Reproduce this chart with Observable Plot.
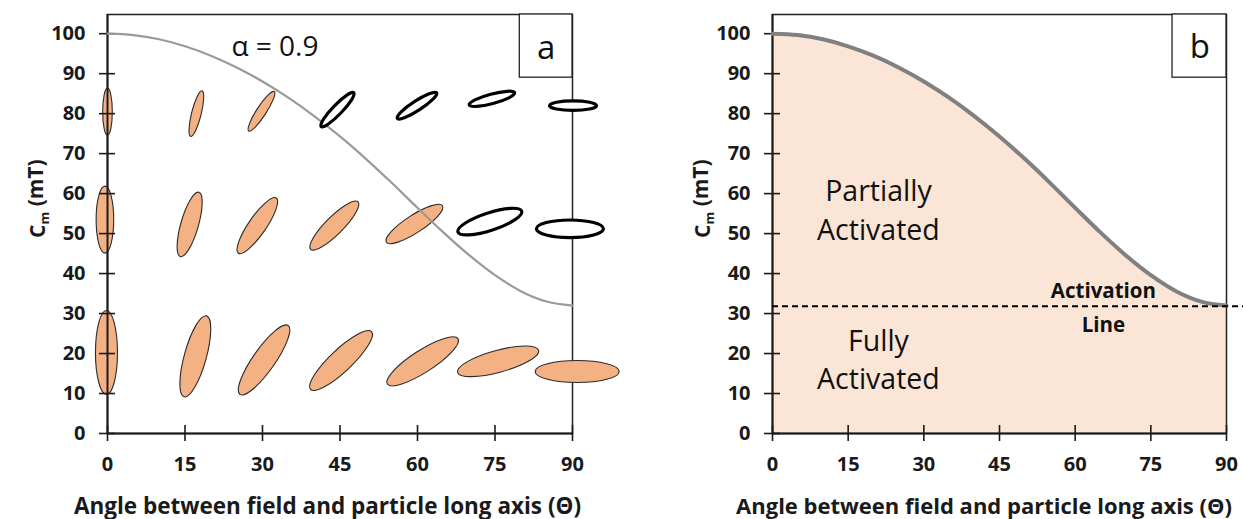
<!DOCTYPE html>
<html><head><meta charset="utf-8">
<script src="https://cdn.jsdelivr.net/npm/d3@7"></script>
<script src="https://cdn.jsdelivr.net/npm/@observablehq/plot@0.6"></script>
<style>
body{margin:0;background:#fff;}
#wrap{display:flex;width:1243px;height:519px;overflow:hidden;}
#wrap svg{display:block;flex:none;}
</style></head><body><div id="wrap"></div>
<script>
// ---- data ----
const angleTicks = [0, 15, 30, 45, 60, 75, 90];
const cmTicks = [0, 10, 20, 30, 40, 50, 60, 70, 80, 90, 100];
const curveAngle = [0, 5, 10, 15, 20, 25, 30, 35, 40, 45, 50, 55, 60, 65, 70, 75, 80, 85, 90];
const curveCm = [100, 99.65, 98.6, 96.85, 94.5, 91.55, 88.05, 84.0, 79.4, 74.3, 68.7, 62.7, 56.45, 50.3, 44.6, 39.6, 35.6, 33.0, 32.0];
const activationCm = 31.8;

// particles (ellipses) in panel a: position, tilt from field direction, activated?
const row1Angle = [0, 17.2, 29.8, 44.5, 59.9, 74.4, 90.1];
const row1Cm = [80.5, 80, 80.6, 81, 82, 83.7, 82];
const row1Tilt = [0, 14, 33, 44, 57, 75, 90];
const row1Active = [true, true, true, false, false, false, false];

const row2Angle = [-0.5, 15.9, 29.0, 43.9, 59.4, 74, 89.5];
const row2Cm = [53.5, 52.3, 52, 52, 52.4, 53, 51.2];
const row2Tilt = [0, 16, 34.5, 45, 57, 72, 90];
const row2Active = [true, true, true, true, true, false, false];

const row3Angle = [-0.2, 17, 30.3, 45.2, 61, 75.6, 90.9];
const row3Cm = [20.25, 19.3, 18.4, 18.25, 18.05, 18.05, 15.5];
const row3Tilt = [0, 15.5, 35, 46.6, 57.3, 74.8, 90];
const row3Active = [true, true, true, true, true, true, true];

const xTitle = "Angle between field and particle long axis (\u0398)";
const yTitle = "Cm (mT)";

// ---- build tables ----
const curve = curveAngle.map((a, i) => ({angle: a, cm: curveCm[i]}));
function rowTable(ang, cm, tilt, act) {
  return ang.map((a, i) => ({angle: a, cm: cm[i], tilt: tilt[i], active: act[i]}));
}
const rows = [
  rowTable(row1Angle, row1Cm, row1Tilt, row1Active),
  rowTable(row2Angle, row2Cm, row2Tilt, row2Active),
  rowTable(row3Angle, row3Cm, row3Tilt, row3Active)
];

// ellipse shapes (pixel half-axes per row)
function ellipseSymbol(a, b) {
  const k = 0.5522847498;
  return {draw(ctx) {
    ctx.moveTo(0, -a);
    ctx.bezierCurveTo(k * b, -a, b, -k * a, b, 0);
    ctx.bezierCurveTo(b, k * a, k * b, a, 0, a);
    ctx.bezierCurveTo(-k * b, a, -b, k * a, -b, 0);
    ctx.bezierCurveTo(-b, -k * a, -k * b, -a, 0, -a);
    ctx.closePath();
  }};
}
const shapes = [ellipseSymbol(23.5, 4.8), ellipseSymbol(33.5, 8.8), ellipseSymbol(42, 11)];

const H = 519, MT = 14, MB = 86;
const yDomain = [0, 104.8];
const FONT = "'Open Sans', sans-serif";
const ORANGE = "#f4b183";

function commonAxes(W, ML, MR, titleDx, titleSize, yLabelX) {
  const innerW = W - ML - MR, innerH = H - MT - MB;
  return [
    Plot.axisX(angleTicks, {tickSize: 0, tickPadding: 23, fontSize: 20, fontWeight: "bold", fill: "#1a1a1a", label: null}),
    Plot.axisY(cmTicks, {tickSize: 0, tickPadding: 22, fontSize: 20, fontWeight: "bold", fill: "#1a1a1a", label: null}),
    Plot.ruleX([0], {stroke: "#1a1a1a", strokeWidth: 2}),
    Plot.ruleY([0], {stroke: "#1a1a1a", strokeWidth: 2}),
    Plot.tickY(cmTicks, {y: d => d, insetRight: innerW - 16, dx: -8, stroke: "#1a1a1a", strokeWidth: 1.6}),
    Plot.tickX(angleTicks, {x: d => d, insetTop: innerH - 16, dy: 8, stroke: "#1a1a1a", strokeWidth: 1.6}),
    Plot.text([xTitle], {text: d => d, frameAnchor: "bottom", dy: 80, dx: titleDx, lineAnchor: "bottom", fontSize: titleSize, fontWeight: "bold", fill: "#1a1a1a"}),
    Plot.text([yTitle], {text: d => d, frameAnchor: "left", dx: -ML + yLabelX, dy: 14, rotate: -90, fontSize: 21, fontWeight: "bold", fill: "#1a1a1a"})
  ];
}

function fixSubscript(svg) {
  d3.select(svg).selectAll("text").filter(function() { return this.textContent === yTitle; })
    .each(function() {
      const t = d3.select(this);
      t.text("");
      t.append("tspan").text("C");
      t.append("tspan").attr("font-size", "0.62em").attr("dy", "0.3em").text("m");
      t.append("tspan").attr("dy", "-0.3em").text(" (mT)");
    });
}

// ---------- panel a ----------
const WA = 621, MLA = 107, MRA = 49;
const marksA = [
  Plot.frame({stroke: "#222", strokeWidth: 1.5})
];
rows.forEach((r, i) => {
  marksA.push(Plot.dot(r.filter(d => d.active), {x: "angle", y: "cm", rotate: "tilt", r: 5, symbol: shapes[i], fill: ORANGE, stroke: "#2a2a2a", strokeWidth: 1.1}));
});
marksA.push(...commonAxes(WA, MLA, MRA, -12.5, 22.5, 38));
marksA.push(Plot.line(curve, {x: "angle", y: "cm", stroke: "#9a9a9a", strokeWidth: 2.2, curve: "monotone-x"}));
rows.forEach((r, i) => {
  marksA.push(Plot.dot(r.filter(d => !d.active), {x: "angle", y: "cm", rotate: "tilt", r: 5, symbol: shapes[i], fill: "white", stroke: "#000", strokeWidth: 3.2}));
});
marksA.push(
  Plot.rect([{x1: 79.8, x2: 90, y1: 89, y2: 104.8}], {x1: "x1", x2: "x2", y1: "y1", y2: "y2", fill: "white", stroke: "#222", strokeWidth: 1.3}),
  Plot.text(["a"], {x: 84.9, y: 96.4, text: d => d, fontSize: 33, fill: "#111", fontWeight: "normal"}),
  Plot.text(["\u03b1 = 0.9"], {x: 32.4, y: 94.3, text: d => d, lineAnchor: "bottom", fontSize: 28, fontWeight: "normal", fill: "#111"})
);

const plotA = Plot.plot({
  width: WA, height: H, marginLeft: MLA, marginRight: MRA, marginTop: MT, marginBottom: MB,
  x: {domain: [0, 90]}, y: {domain: yDomain},
  style: {fontFamily: FONT, background: "white", overflow: "visible"},
  marks: marksA
});
fixSubscript(plotA);

// ---------- panel b ----------
const WB = 622, MLB = 151, MRB = 17;
const marksB = [
  Plot.areaY(curve, {x: "angle", y: "cm", fill: "#fbe5d6", curve: "monotone-x"}),
  Plot.frame({stroke: "#222", strokeWidth: 1.5}),
  ...commonAxes(WB, MLB, MRB, -15.5, 22, 82),
  Plot.line(curve, {x: "angle", y: "cm", stroke: "#808080", strokeWidth: 4, curve: "monotone-x"}),
  Plot.ruleY([activationCm], {x1: 0, x2: 94, stroke: "#000", strokeWidth: 2, strokeDasharray: "6,4"}),
  Plot.rect([{x1: 79.3, x2: 90, y1: 89, y2: 104.8}], {x1: "x1", x2: "x2", y1: "y1", y2: "y2", fill: "white", stroke: "#222", strokeWidth: 1.3}),
  Plot.text(["b"], {x: 84.7, y: 96.6, text: d => d, fontSize: 33, fill: "#111", fontWeight: "normal"}),
  Plot.text([
    {t: "Partially", x: 21, y: 58.2},
    {t: "Activated", x: 21, y: 48.5},
    {t: "Fully", x: 21, y: 20.6},
    {t: "Activated", x: 21, y: 11.2}
  ], {x: "x", y: "y", text: "t", lineAnchor: "bottom", fontSize: 28.5, fontWeight: "normal", fill: "#111"}),
  Plot.text([
    {t: "Activation", x: 65.6, y: 34},
    {t: "Line", x: 65.6, y: 25.5}
  ], {x: "x", y: "y", text: "t", lineAnchor: "bottom", fontSize: 20.5, fontWeight: "bold", fill: "#111"})
];
const plotB = Plot.plot({
  width: WB, height: H, marginLeft: MLB, marginRight: MRB, marginTop: MT, marginBottom: MB,
  x: {domain: [0, 90]}, y: {domain: yDomain},
  style: {fontFamily: FONT, background: "white", overflow: "visible"},
  marks: marksB
});
fixSubscript(plotB);

const wrap = document.getElementById("wrap");
wrap.append(plotA, plotB);
</script>
</body></html>
